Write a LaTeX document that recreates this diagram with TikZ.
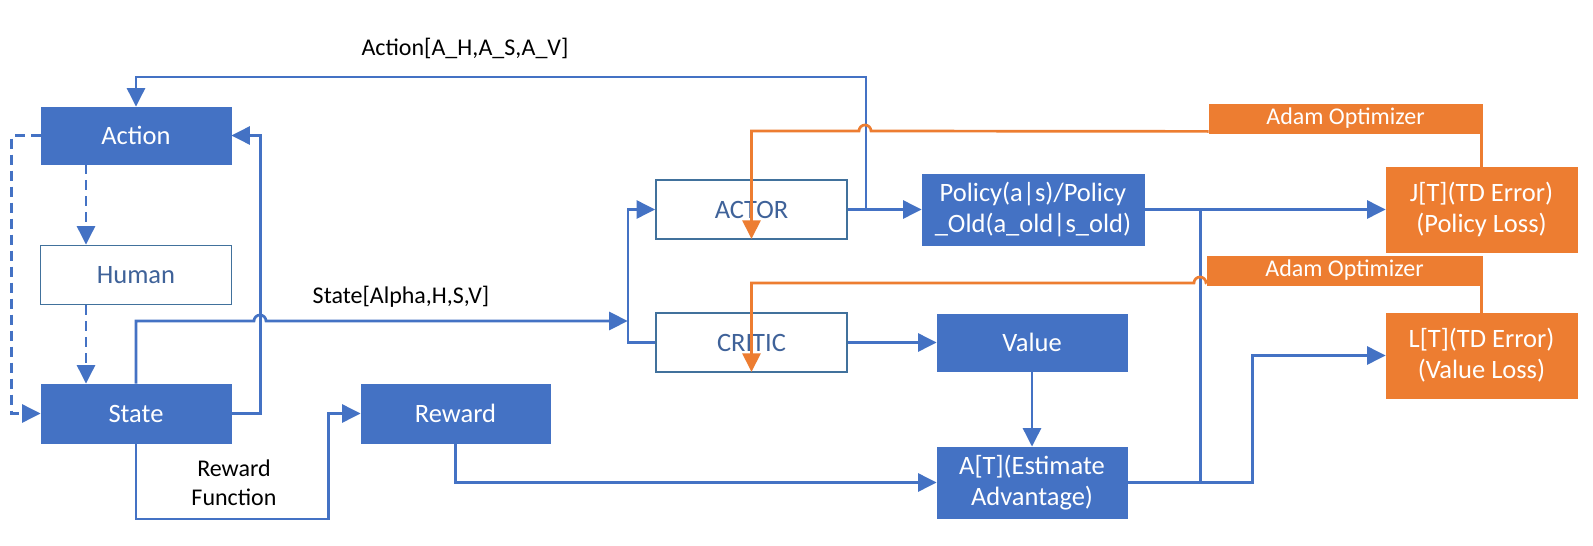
\documentclass[tikz,border=0pt]{standalone}
\usepackage{fontspec}
\setmainfont{Carlito}
\usetikzlibrary{arrows.meta}
\definecolor{oblue}{HTML}{4472C4}
\definecolor{oorange}{HTML}{ED7D31}
\definecolor{bordblue}{HTML}{41719C}
\definecolor{txtblue}{HTML}{3F6299}
\tikzset{
  x=1pt, y=1pt,
  boxtext/.style={font=\fontsize{26.5}{31}\selectfont, align=center, inner sep=0pt},
  bluebox/.style={boxtext, rectangle, fill=oblue, draw=oblue, line width=0.8pt, text=white},
  whitebox/.style={boxtext, rectangle, fill=white, draw=bordblue, line width=1.8pt, text=txtblue},
  orangebox/.style={boxtext, rectangle, fill=oorange, draw=oorange, line width=0.8pt, text=white},
  adambox/.style={rectangle, fill=oorange, draw=oorange, line width=0.8pt, text=white, inner sep=0pt, font=\fontsize{24}{29}\selectfont},
  lbl/.style={font=\fontsize{24}{29}\selectfont, align=center, inner sep=0pt, text=black},
  bline/.style={draw=oblue, line width=2.7pt},
  oline/.style={draw=oorange, line width=2.7pt},
  tipped/.style={-{Triangle[length=18.5pt,width=18pt]}},
  dashline/.style={dash pattern=on 10pt off 6pt}
}
\begin{document}
\begin{tikzpicture}
\useasboundingbox[fill=white] (0,0) rectangle (1593,-546);

% nodes
\node[bluebox, minimum width=190, minimum height=57] (action) at (136,-135.5) {Action};
\node[whitebox, minimum width=191, minimum height=59] (human) at (136,-275) {Human};
\node[bluebox, minimum width=190, minimum height=59] (state) at (136,-413.5) {State};
\node[bluebox, minimum width=189, minimum height=59] (reward) at (455.5,-413.5) {Reward};
\node[whitebox, minimum width=191, minimum height=59] (actor) at (751.5,-209.5) {ACTOR};
\node[whitebox, minimum width=191, minimum height=59] (critic) at (751.5,-342.5) {CRITIC};
\node[bluebox, minimum width=222, minimum height=71] (policy) at (1033,-209.5) {Policy(a|s)/Policy\\\_Old(a\_old|s\_old)};
\node[bluebox, minimum width=190, minimum height=57] (value) at (1032,-342.5) {Value};
\node[bluebox, minimum width=190, minimum height=71] (adv) at (1032,-482.5) {A[T](Estimate\\Advantage)};
\node[orangebox, minimum width=191, minimum height=85] (J) at (1481.5,-209.5) {J[T](TD Error)\\(Policy Loss)};
\node[orangebox, minimum width=191, minimum height=85] (L) at (1481.5,-355.5) {L[T](TD Error)\\(Value Loss)};
\node[adambox, minimum width=273, minimum height=29] (adam1) at (1345.5,-118.5) {Adam Optimizer};
\node[adambox, minimum width=275, minimum height=29] (adam2) at (1344.5,-270.5) {Adam Optimizer};

% labels
\node[lbl] (lab1) at (465,-48) {Action[A\_H,A\_S,A\_V]};
\node[lbl] (lab2) at (401,-297) {State[Alpha,H,S,V]};
\node[lbl] (lab3) at (234,-483) {Reward\\Function};

% dashed human loop
\draw[bline, dashline, tipped] (action.west) -- ++(-29,0) |- (state.west);
\draw[bline, dashline, tipped] ([xshift=-50pt]action.south) -- ([xshift=-50pt]human.north);
\draw[bline, dashline, tipped] ([xshift=-50pt]human.south) -- ([xshift=-50pt]state.north);

% state -> action
\draw[bline, tipped] (state.east) -- ++(29,0) |- (action.east);

% state -> actor/critic
\coordinate (split) at (629,-321);
\draw[bline, tipped] (state.north) -- (state.north |- split) -- (254,-321)
   arc[start angle=180, end angle=0, radius=6pt] -- ([xshift=-1.3pt]split);
\draw[bline, tipped] (critic.west) -- ++(-27,0) |- (actor.west);

% actor -> policy, and action feedback
\draw[bline, tipped] (actor.east) -- (actor.east -| policy.west);
\draw[bline, tipped] ([xshift=18pt]actor.east) -- ++(0,132.5) -| (action.north);

% critic -> value -> advantage
\draw[bline, tipped] (critic.east) -- (critic.east -| value.west);
\draw[bline, tipped] (value.south) -- (adv.north);

% state -> reward -> advantage
\draw[bline, tipped] (state.south) -- ++(0,-75.5) -| ([xshift=-32pt]reward.west) -- (reward.west);
\draw[bline, tipped] (reward.south) |- (adv.west);

% to losses
\draw[bline, tipped] (policy.east) -- (policy.east -| J.west);
\draw[bline] ([xshift=56pt]policy.east) -- ([xshift=73pt]adv.east);
\draw[bline, tipped] (adv.east) -- ++(125,0) |- (L.west);

% optimizer feedback
\draw[oline] (J.north) -- (J.north |- adam1.south);
\draw[oline] (L.north) -- (L.north |- adam2.south);
\draw[oline, tipped] ([yshift=2pt]adam1.south west) -- (871,-131)
   arc[start angle=0, end angle=180, radius=6pt] -- (actor.south |- 0,-131) -- ([yshift=1pt]actor.south);
\draw[oline, tipped] ([yshift=2pt]adam2.south west) -- (1206,-283)
   arc[start angle=0, end angle=180, radius=6pt] -- (critic.south |- 0,-283) -- ([yshift=1pt]critic.south);
\end{tikzpicture}
\end{document}
